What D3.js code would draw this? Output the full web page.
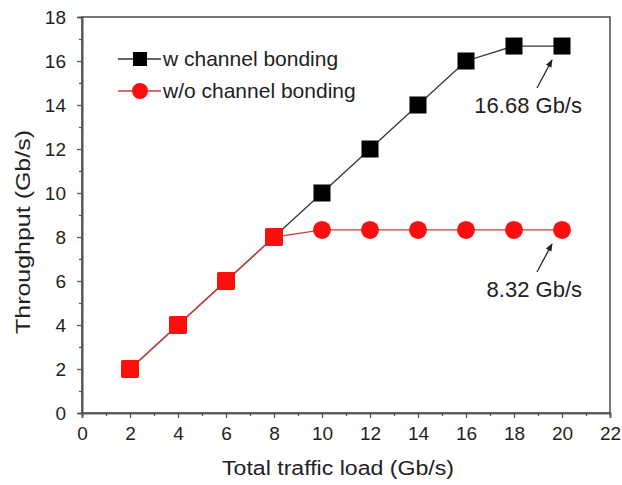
<!DOCTYPE html>
<html>
<head>
<meta charset="utf-8">
<script src="https://d3js.org/d3.v7.min.js"></script>
<style>
body {margin:0; background:white;}
text {font-family: Arial, "Liberation Sans", sans-serif; fill:#222;}
</style>
</head>
<body>
<svg id="chart"></svg>
<script>
var loads = [2,4,6,8,10,12,14,16,18,20]
var withBonding = [2,4,6,8,10,12,14,16,16.68,16.68]
var withoutBonding = [2,4,6,8,8.32,8.32,8.32,8.32,8.32,8.32]
var xTicks = [0,2,4,6,8,10,12,14,16,18,20,22]
var yTicks = [0,2,4,6,8,10,12,14,16,18]
var seriesNames = ["w channel bonding","w/o channel bonding"]
var notes = [{x:20,y:16.68,text:"16.68 Gb/s"},{x:20,y:8.32,text:"8.32 Gb/s"}]

var screen = {width:622, height:485}
var margins = {top:17, bottom:72, left:82, right:12}
var graph = {
    width: screen.width-margins.left-margins.right,
    height: screen.height-margins.top-margins.bottom
}

var svg = d3.select("#chart")
    .attr("width",screen.width)
    .attr("height",screen.height)

svg.append("defs").append("marker")
    .attr("id","arrow")
    .attr("viewBox","0 0 10 10")
    .attr("refX",9).attr("refY",5)
    .attr("markerWidth",6).attr("markerHeight",6)
    .attr("orient","auto")
    .append("path")
    .attr("d","M0,1 L10,5 L0,9 z")
    .attr("fill","#222")

var xScale = d3.scaleLinear().domain([0,22]).range([0,graph.width])
var yScale = d3.scaleLinear().domain([0,18]).range([graph.height,0])

var g = svg.append("g")
    .attr("transform","translate("+margins.left+","+margins.top+")")

// frame
g.append("rect")
    .attr("width",graph.width)
    .attr("height",graph.height)
    .attr("fill","none")
    .attr("stroke","#555")
    .attr("stroke-width",1.6)

var styleAxis = function(sel)
{
    sel.select(".domain").attr("stroke","#555").attr("stroke-width",1.6)
    sel.selectAll(".tick line").attr("stroke","#555").attr("stroke-width",1.3)
    sel.selectAll("text").attr("font-size","19px").attr("fill","#222")
        .attr("font-family","Arial, 'Liberation Sans', sans-serif")
}

// minor ticks
g.append("g")
    .attr("transform","translate(0,"+graph.height+")")
    .call(d3.axisBottom(xScale).tickValues(d3.range(1,22,2)).tickSize(3).tickFormat(""))
    .call(styleAxis)
g.append("g")
    .call(d3.axisLeft(yScale).tickValues(d3.range(1,18,2)).tickSize(3).tickFormat(""))
    .call(styleAxis)

g.append("g")
    .attr("transform","translate(0,"+graph.height+")")
    .call(d3.axisBottom(xScale).tickValues(xTicks).tickSize(5).tickPadding(9))
    .call(styleAxis)
g.append("g")
    .call(d3.axisLeft(yScale).tickValues(yTicks).tickSize(5).tickPadding(11))
    .call(styleAxis)

var line = d3.line()
    .x(function(d,i){return xScale(loads[i])})
    .y(function(d){return yScale(d)})

g.append("path").datum(withBonding)
    .attr("d",line).attr("fill","none").attr("stroke","#333").attr("stroke-width",1.3)
g.append("path").datum(withoutBonding)
    .attr("d",line).attr("fill","none").attr("stroke","#d83a3a").attr("stroke-width",1.3)

g.selectAll(".sq").data(withBonding).enter()
    .append("rect")
    .attr("x",function(d,i){return xScale(loads[i])-8.5})
    .attr("y",function(d){return yScale(d)-8.5})
    .attr("width",17).attr("height",17)
    .attr("fill","#000")

// circles; where both series meet the point shows as a red square
g.selectAll(".circ").data(withoutBonding).enter()
    .append("rect")
    .attr("x",function(d,i){return xScale(loads[i])-9})
    .attr("y",function(d){return yScale(d)-9})
    .attr("width",18).attr("height",18)
    .attr("rx",function(d,i){return d==withBonding[i] ? 2.5 : 9})
    .attr("fill","#ff0c0c")

// legend
var legend = g.append("g").attr("transform","translate(36,42)")
legend.append("line").attr("x1",0).attr("x2",43).attr("y1",0).attr("y2",0)
    .attr("stroke","#333").attr("stroke-width",1.3)
legend.append("rect").attr("x",15).attr("y",-7).attr("width",14).attr("height",14).attr("fill","#000")
legend.append("text").attr("x",45).attr("y",0).attr("dy","0.35em")
    .attr("font-size","21px").text(seriesNames[0])
legend.append("line").attr("x1",0).attr("x2",43).attr("y1",32).attr("y2",32)
    .attr("stroke","#d83a3a").attr("stroke-width",1.3)
legend.append("circle").attr("cx",22).attr("cy",32).attr("r",8).attr("fill","#ff0c0c")
legend.append("text").attr("x",45).attr("y",32).attr("dy","0.35em")
    .attr("font-size","21px").text(seriesNames[1])

// annotations
notes.forEach(function(n)
{
    var px = xScale(n.x), py = yScale(n.y)
    g.append("line")
        .attr("x1",px-25).attr("y1",py+42)
        .attr("x2",px-10).attr("y2",py+14)
        .attr("stroke","#222").attr("stroke-width",1.3)
        .attr("marker-end","url(#arrow)")
    g.append("text")
        .attr("x",px+20).attr("y",py+67)
        .attr("text-anchor","end")
        .attr("font-size","22px")
        .text(n.text)
})

// axis titles
svg.append("text")
    .attr("x",338)
    .attr("y",475)
    .attr("text-anchor","middle")
    .attr("font-size","20px")
    .attr("textLength",232)
    .attr("lengthAdjust","spacingAndGlyphs")
    .text("Total traffic load (Gb/s)")
svg.append("text")
    .attr("transform","translate(30,232) rotate(-90)")
    .attr("text-anchor","middle")
    .attr("font-size","21px")
    .attr("textLength",204)
    .attr("lengthAdjust","spacingAndGlyphs")
    .text("Throughput (Gb/s)")
</script>
</body>
</html>
